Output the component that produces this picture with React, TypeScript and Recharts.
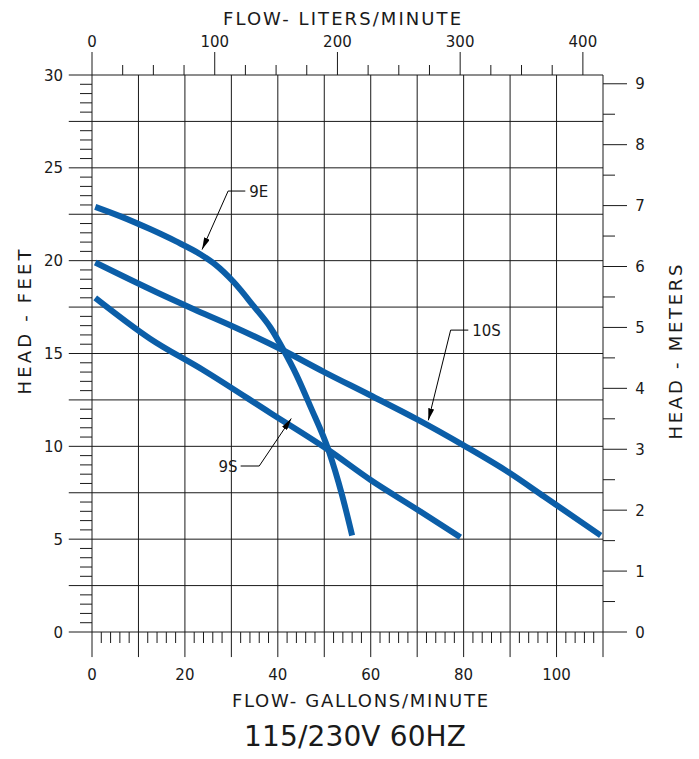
import { ComposedChart, Line, XAxis, YAxis, ReferenceLine, ReferenceDot } from "recharts";

// pump curves (gpm vs feet of head)
const curve9E = [
  { gpm: 0.7, ft: 22.9 }, { gpm: 6, ft: 22.4 }, { gpm: 12.5, ft: 21.7 }, { gpm: 18, ft: 21.05 },
  { gpm: 23.3, ft: 20.35 }, { gpm: 26.5, ft: 19.8 }, { gpm: 30.5, ft: 18.85 }, { gpm: 34.8, ft: 17.55 },
  { gpm: 38.4, ft: 16.4 }, { gpm: 41.2, ft: 15.2 }, { gpm: 44, ft: 13.85 }, { gpm: 47, ft: 12.15 },
  { gpm: 50.9, ft: 9.8 }, { gpm: 53.8, ft: 7.4 }, { gpm: 56, ft: 5.2 },
];
const curve10S = [
  { gpm: 0.7, ft: 19.9 }, { gpm: 13.9, ft: 18.3 }, { gpm: 21.8, ft: 17.4 }, { gpm: 30, ft: 16.5 },
  { gpm: 40.9, ft: 15.2 }, { gpm: 50, ft: 14.0 }, { gpm: 59.9, ft: 12.75 }, { gpm: 70, ft: 11.45 },
  { gpm: 80, ft: 10.05 }, { gpm: 90, ft: 8.55 }, { gpm: 97.3, ft: 7.3 }, { gpm: 109.5, ft: 5.2 },
];
const curve9S = [
  { gpm: 0.7, ft: 18.0 }, { gpm: 12.5, ft: 15.8 }, { gpm: 24, ft: 14.1 }, { gpm: 38.4, ft: 11.8 },
  { gpm: 50.9, ft: 9.8 }, { gpm: 59.9, ft: 8.2 }, { gpm: 70, ft: 6.6 }, { gpm: 79.3, ft: 5.1 },
];

// axis ticks / grid values
const gpmTicks = Array.from({ length: 56 }, (_, i) => i * 2);
const ftTicks = Array.from({ length: 61 }, (_, i) => i * 0.5);
const meterTicks = Array.from({ length: 19 }, (_, i) => i * 0.5);
const lpmTicks = Array.from({ length: 17 }, (_, i) => i * 25);
const lpmLabels = [0, 100, 200, 300, 400];
const gpmGrid = [0, 10, 20, 30, 40, 50, 60, 70, 80, 90, 100, 110];
const ftGrid = [0, 2.5, 5, 7.5, 10, 12.5, 15, 17.5, 20, 22.5, 25, 27.5, 30];

// callouts: arrow tip, knee, end of the short horizontal, label
const callouts = [
  { name: "9E", tip: [23.7, 20.6], knee: [29.3, 23.75], end: [33.0, 23.75], anchor: "start" },
  { name: "10S", tip: [72.4, 11.4], knee: [77.2, 16.26], end: [81.0, 16.26], anchor: "start" },
  { name: "9S", tip: [42.9, 11.5], knee: [36.0, 8.94], end: [32.0, 8.94], anchor: "end" },
];

const GPM_MAX = 110;
const FT_MAX = 30;
const LPM_PER_GPM = 3.78541;
const FT_PER_M = 3.28084;
const FT_PER_PX = FT_MAX / 557; // plot is 557px tall, used for the top tick lengths
const FONT = "'DejaVu Sans', Verdana, sans-serif";
const INK = "#1a1a1a";
const BLUE = "#0b5ea8";

function GpmTick({ x, y, payload }: any) {
  const v = payload.value;
  return (
    <g>
      {v % 10 !== 0 && <line x1={x} x2={x} y1={y} y2={y + 11} stroke={INK} />}
      {v % 20 === 0 && v <= 100 && (
        <text x={x} y={y + 48} textAnchor="middle" fontSize={15} fontFamily={FONT} fill={INK}>
          {v}
        </text>
      )}
    </g>
  );
}

function FtTick({ x, y, payload }: any) {
  const v = payload.value;
  return (
    <g>
      {v % 2.5 !== 0 && <line x1={x - 12} x2={x} y1={y} y2={y} stroke={INK} />}
      {v % 5 === 0 && (
        <text x={x - 29} y={y + 5.5} textAnchor="end" fontSize={15} fontFamily={FONT} fill={INK}>
          {v}
        </text>
      )}
    </g>
  );
}

function MeterTick({ x, y, payload }: any) {
  const v = payload.value;
  const whole = v % 1 === 0;
  return (
    <g>
      <line x1={x} x2={x + (whole ? 24 : 12)} y1={y} y2={y} stroke={INK} />
      {whole && (
        <text x={x + 37} y={y + 5.5} textAnchor="middle" fontSize={15} fontFamily={FONT} fill={INK}>
          {v}
        </text>
      )}
    </g>
  );
}

export default function App() {
  return (
    <div style={{ position: "absolute", left: 0, top: 0, width: 699, height: 759, background: "#fff" }}>
      <ComposedChart width={699} height={759} margin={{ top: 75, right: 36, bottom: 67, left: 32 }}>
        <XAxis
          xAxisId="gpm"
          type="number"
          dataKey="gpm"
          orientation="bottom"
          domain={[0, GPM_MAX]}
          allowDataOverflow
          ticks={gpmTicks}
          interval={0}
          height={60}
          axisLine={false}
          tickLine={false}
          tickSize={0}
          tickMargin={0}
          tick={<GpmTick />}
        />
        <YAxis
          yAxisId="ft"
          type="number"
          orientation="left"
          domain={[0, FT_MAX]}
          allowDataOverflow
          ticks={ftTicks}
          interval={0}
          width={60}
          axisLine={false}
          tickLine={false}
          tickSize={0}
          tickMargin={0}
          tick={<FtTick />}
        />
        <YAxis
          yAxisId="m"
          type="number"
          orientation="right"
          domain={[0, FT_MAX / FT_PER_M]}
          allowDataOverflow
          ticks={meterTicks}
          interval={0}
          width={60}
          axisLine={false}
          tickLine={false}
          tickSize={0}
          tickMargin={0}
          tick={<MeterTick />}
        />

        {ftGrid.map((v) => (
          <ReferenceLine
            key={`h${v}`}
            xAxisId="gpm"
            yAxisId="ft"
            segment={[{ x: -5, y: v }, { x: GPM_MAX, y: v }]}
            ifOverflow="visible"
            stroke={INK}
            strokeWidth={1}
          />
        ))}
        {gpmGrid.map((v) => (
          <ReferenceLine
            key={`v${v}`}
            xAxisId="gpm"
            yAxisId="ft"
            segment={[{ x: v, y: FT_MAX }, { x: v, y: -1.35 }]}
            ifOverflow="visible"
            stroke={INK}
            strokeWidth={1}
          />
        ))}

        {/* liters/minute scale along the top edge */}
        {lpmTicks.map((v) => (
          <ReferenceLine
            key={`l${v}`}
            xAxisId="gpm"
            yAxisId="ft"
            segment={[
              { x: v / LPM_PER_GPM, y: FT_MAX },
              { x: v / LPM_PER_GPM, y: FT_MAX + (v % 100 === 0 ? 23 : 10) * FT_PER_PX },
            ]}
            ifOverflow="visible"
            stroke={INK}
            strokeWidth={1}
          />
        ))}
        {lpmLabels.map((v) => (
          <ReferenceDot
            key={`ll${v}`}
            xAxisId="gpm"
            yAxisId="ft"
            x={v / LPM_PER_GPM}
            y={FT_MAX}
            ifOverflow="visible"
            shape={(p: any) => (
              <text x={p.cx} y={p.cy - 28} textAnchor="middle" fontSize={15} fontFamily={FONT} fill={INK}>
                {v}
              </text>
            )}
          />
        ))}

        {[curve9E, curve10S, curve9S].map((c, i) => (
          <Line
            key={i}
            xAxisId="gpm"
            yAxisId="ft"
            data={c}
            dataKey="ft"
            type="monotone"
            stroke={BLUE}
            strokeWidth={6}
            strokeLinecap="butt"
            dot={false}
            activeDot={false}
            isAnimationActive={false}
          />
        ))}

        {callouts.map((c) => (
          <ReferenceLine
            key={`a${c.name}`}
            xAxisId="gpm"
            yAxisId="ft"
            segment={[{ x: c.knee[0], y: c.knee[1] }, { x: c.tip[0], y: c.tip[1] }]}
            ifOverflow="visible"
            stroke="#000"
            strokeWidth={1}
            markerEnd="url(#arrowHead)"
          />
        ))}
        {callouts.map((c) => (
          <ReferenceLine
            key={`b${c.name}`}
            xAxisId="gpm"
            yAxisId="ft"
            segment={[{ x: c.knee[0], y: c.knee[1] }, { x: c.end[0], y: c.end[1] }]}
            ifOverflow="visible"
            stroke="#000"
            strokeWidth={1}
          />
        ))}
        {callouts.map((c) => (
          <ReferenceDot
            key={`t${c.name}`}
            xAxisId="gpm"
            yAxisId="ft"
            x={c.end[0]}
            y={c.end[1]}
            ifOverflow="visible"
            shape={(p: any) => (
              <text
                x={p.cx + (c.anchor === "start" ? 4 : -3)}
                y={p.cy + 5.5}
                textAnchor={c.anchor}
                fontSize={15}
                fontFamily={FONT}
                fill={INK}
              >
                {c.name}
              </text>
            )}
          />
        ))}
      </ComposedChart>

      <svg
        width={699}
        height={759}
        style={{ position: "absolute", left: 0, top: 0, pointerEvents: "none" }}
      >
        <defs>
          <marker
            id="arrowHead"
            viewBox="0 0 12 6"
            refX={12}
            refY={3}
            markerWidth={12}
            markerHeight={6}
            markerUnits="userSpaceOnUse"
            orient="auto"
          >
            <path d="M0,0 L12,3 L0,6 z" fill="#000" />
          </marker>
        </defs>
        <g fontFamily={FONT} fill={INK} style={{ whiteSpace: "pre" }}>
          <text x={342} y={25} textAnchor="middle" fontSize={18} textLength={238} lengthAdjust="spacing">
            FLOW-  LITERS/MINUTE
          </text>
          <text x={360} y={707} textAnchor="middle" fontSize={18} textLength={256} lengthAdjust="spacing">
            FLOW-  GALLONS/MINUTE
          </text>
          <text x={355} y={746} textAnchor="middle" fontSize={28} textLength={222} lengthAdjust="spacing">
            115/230V  60HZ
          </text>
          <text
            x={25}
            y={322}
            dy={6}
            textAnchor="middle"
            fontSize={18}
            transform="rotate(-90 25 322)"
            textLength={145}
            lengthAdjust="spacing"
          >
            HEAD  -  FEET
          </text>
          <text
            x={676}
            y={352}
            dy={6}
            textAnchor="middle"
            fontSize={18}
            transform="rotate(-90 676 352)"
            textLength={175}
            lengthAdjust="spacing"
          >
            HEAD  -  METERS
          </text>
        </g>
      </svg>
    </div>
  );
}
